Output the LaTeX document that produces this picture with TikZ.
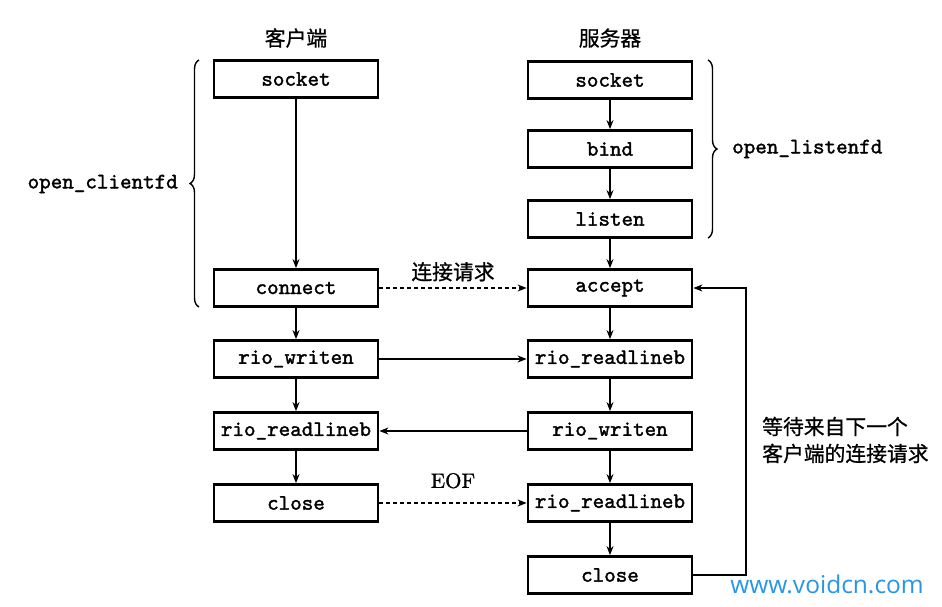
\documentclass[tikz,border=0pt]{standalone}
\usepackage{fontspec}
\newfontfamily\cjk[FakeBold=0.8]{Noto Sans CJK SC}
\newfontfamily\wmfont{Open Sans}
\newfontfamily\codefont[FakeBold=1.6]{lmmono10-regular.otf}
\newfontfamily\eoffont[FakeBold=1.0]{lmroman10-regular.otf}
\usetikzlibrary{arrows.meta,decorations.pathreplacing}
\definecolor{wmblue}{RGB}{40,150,230}
\begin{document}
\begin{tikzpicture}[x=1pt,y=-1pt,
  box/.style={draw,line width=2.8pt,minimum width=164pt,minimum height=37pt,inner sep=0pt,
    font=\codefont\fontsize{22}{22}\selectfont},
  arr/.style={line width=1.3pt,-{Stealth[length=9pt,width=7pt]}},
  darr/.style={arr,dashed,dash pattern=on 4pt off 3pt},
  cjklab/.style={font=\cjk\fontsize{20.8}{27}\selectfont,inner sep=0pt},
  brc/.style={line width=1.4pt,decorate,decoration={brace,amplitude=9pt}},
  fname/.style={font=\codefont\fontsize{22}{22}\selectfont,inner sep=0pt}
]
\useasboundingbox (0,0) rectangle (942,607);
\fill[white] (0,0) rectangle (942,607);

% headers
\node[cjklab] (hc) at (296,38) {客户端};
\node[cjklab] (hs) at (610,38) {服务器};

% client
\node[box] (csock) at (296,79) {socket};
\node[box] (cconn) at (296,288) {connect};
\node[box] (cwr) at (296,359) {rio\_writen};
\node[box] (crd) at (296,431) {rio\_readlineb};
\node[box] (ccl) at (296,503) {close};

% server
\node[box] (ssock) at (610,80) {socket};
\node[box] (sbind) at (610,149) {bind};
\node[box] (slist) at (610,219) {listen};
\node[box] (sacc) at (610,288) {accept};
\node[box] (srd) at (610,359) {rio\_readlineb};
\node[box] (swr) at (610,431) {rio\_writen};
\node[box] (srd2) at (610,503) {rio\_readlineb};
\node[box] (scl) at (610,575) {close};

% vertical arrows
\draw[arr] (csock) -- (cconn);
\draw[arr] (cconn) -- (cwr);
\draw[arr] (cwr) -- (crd);
\draw[arr] (crd) -- (ccl);
\draw[arr] (ssock) -- (sbind);
\draw[arr] (sbind) -- (slist);
\draw[arr] (slist) -- (sacc);
\draw[arr] (sacc) -- (srd);
\draw[arr] (srd) -- (swr);
\draw[arr] (swr) -- (srd2);
\draw[arr] (srd2) -- (scl);

% horizontal arrows
\draw[darr] (cconn) -- (sacc) node[midway,above=6pt,cjklab] (lreq) {连接请求};
\draw[arr] (cwr) -- (srd);
\draw[arr] (swr) -- (crd);
\draw[darr] (ccl) -- (srd2) node[midway,above=14pt,inner sep=0pt,font=\eoffont\fontsize{21}{21}\selectfont] (leof) {EOF};

% feedback loop
\coordinate (fb) at (746,575);
\draw[arr] (scl.east) -- (fb) |- (sacc.east);
\node[cjklab,anchor=west,align=left] (lwait) at (762,440) {等待来自下一个\\客户端的连接请求};

% braces
\draw[brc] (199,307) -- (199,60);
\node[fname,anchor=east] (oc) at (178,184) {open\_clientfd};
\draw[brc] (708,60) -- (708,238);
\node[fname,anchor=west] (ol) at (732,149) {open\_listenfd};

% watermark
\node[font=\wmfont\fontsize{24.5}{24.5}\selectfont,text=wmblue,inner sep=0pt] (wm) at (827,584) {www.voidcn.com};
\end{tikzpicture}
\end{document}
